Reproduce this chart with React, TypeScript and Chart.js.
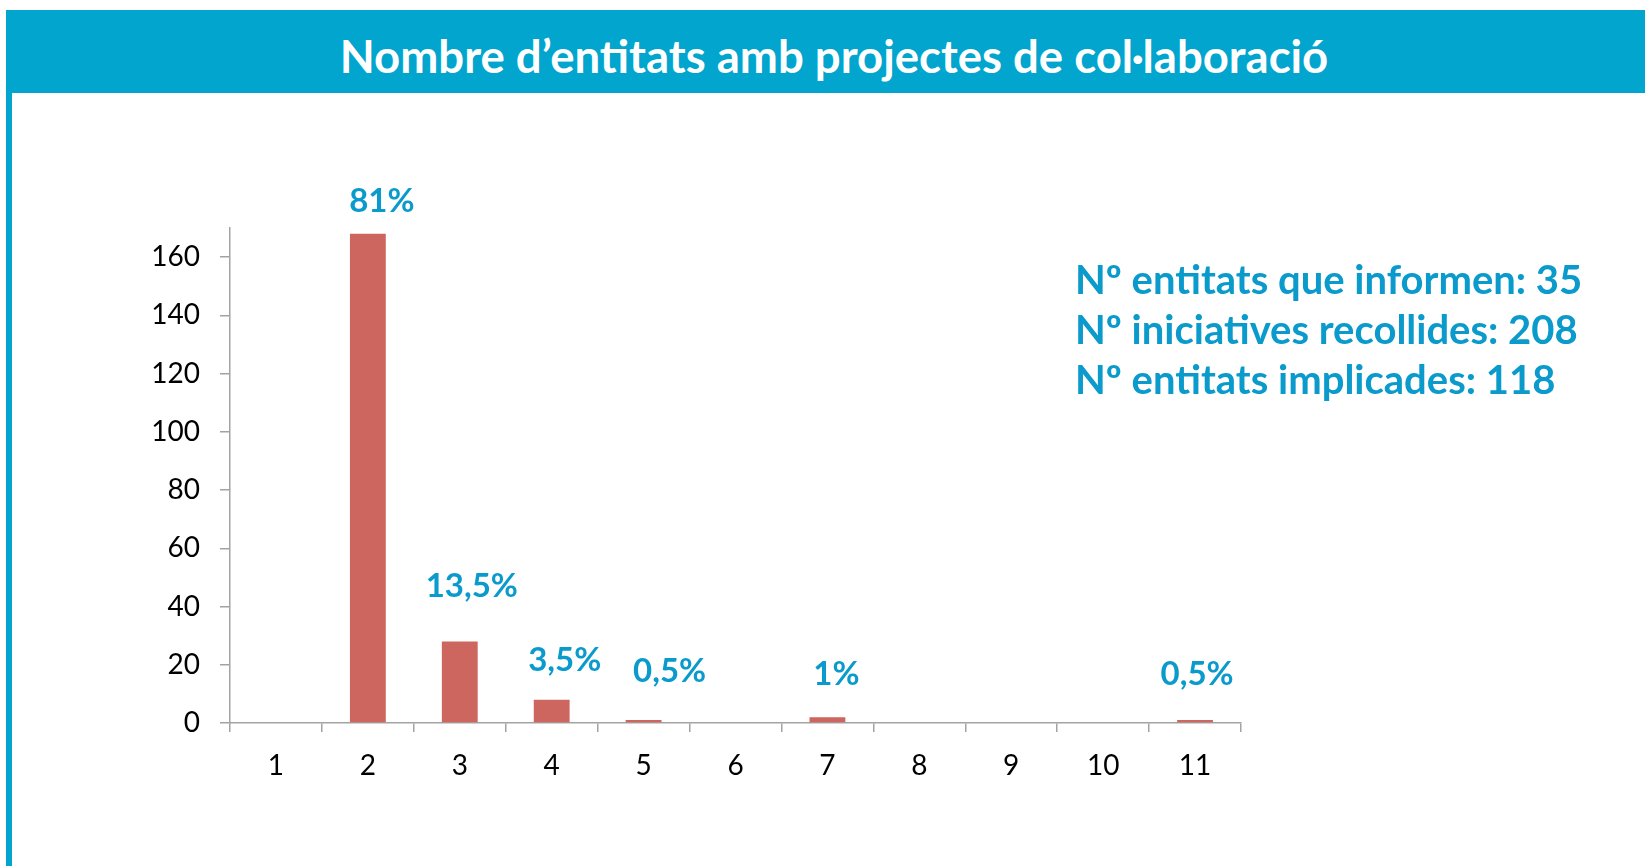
import React, { useEffect, useRef } from "react";
import { Chart, registerables } from "chart.js";

Chart.register(...registerables);

const title = "Nombre d’entitats amb projectes de col·laboració";
const categories = ["1", "2", "3", "4", "5", "6", "7", "8", "9", "10", "11"];
const counts = [0, 168, 28, 8, 1, 0, 2, 0, 0, 0, 1];
const percentLabels = ["", "81%", "13,5%", "3,5%", "0,5%", "", "1%", "", "", "", "0,5%"];
const yTicks = [0, 20, 40, 60, 80, 100, 120, 140, 160];
const infoLines = [
  "Nº entitats que informen: 35",
  "Nº iniciatives recollides: 208",
  "Nº entitats implicades: 118",
];

// label placement (pixel offsets from bar top centre), styling only
const labelOffsets: [number, number][] = [
  [0, 0], [14, 32], [12, 55], [13, 39], [26, 49], [0, 0], [9, 43], [0, 0], [0, 0], [0, 0], [2, 46],
];

const HEADER_BLUE = "#01A5CE";
const LABEL_BLUE = "#0A9ACB";
const BAR_RED = "#CD665F";
const AXIS = "#A3A3A3";
const FONT = "Lato, 'Open Sans', sans-serif";

export default function App() {
  const canvasRef = useRef<HTMLCanvasElement | null>(null);

  useEffect(() => {
    document.body.style.margin = "0";
    const canvas = canvasRef.current;
    if (!canvas) return;

    const pctPlugin = {
      id: "pctLabels",
      afterDatasetsDraw(chart: any) {
        const meta = chart.getDatasetMeta(0);
        const ctx = chart.ctx;
        ctx.save();
        ctx.font = `bold 33px ${FONT}`;
        ctx.fillStyle = LABEL_BLUE;
        ctx.textAlign = "center";
        ctx.textBaseline = "middle";
        percentLabels.forEach((t, i) => {
          if (!t) return;
          const el = meta.data[i];
          const [dx, dy] = labelOffsets[i];
          ctx.fillText(t, el.x + dx, el.y - dy);
        });
        ctx.restore();
      },
    };

    const chart = new Chart(canvas, {
      type: "bar",
      data: {
        labels: categories,
        datasets: [
          {
            data: counts,
            backgroundColor: BAR_RED,
            barPercentage: 0.39,
            categoryPercentage: 1,
          },
        ],
      },
      options: {
        animation: false,
        responsive: false,
        devicePixelRatio: 1,
        layout: { padding: { left: 130, top: 228, right: 404, bottom: 83 } },
        plugins: { legend: { display: false }, tooltip: { enabled: false } },
        scales: {
          x: {
            grid: {
              offset: true,
              drawOnChartArea: false,
              tickLength: 9,
              color: AXIS,
              lineWidth: 1.5,
            },
            border: { color: AXIS, width: 1.5 },
            ticks: { font: { family: FONT, size: 28 }, color: "#000", padding: 17 },
            afterFit: (s: any) => {
              s.height = 60;
            },
          },
          y: {
            min: 0,
            max: 170,
            afterBuildTicks: (s: any) => {
              s.ticks = yTicks.map((v) => ({ value: v }));
            },
            grid: {
              drawOnChartArea: false,
              tickLength: 10,
              color: AXIS,
              lineWidth: 1.5,
            },
            border: { color: AXIS, width: 1.5 },
            ticks: { font: { family: FONT, size: 28 }, color: "#000", padding: 20 },
            afterFit: (s: any) => {
              s.width = 100;
            },
          },
        },
      },
      plugins: [pctPlugin],
    } as any);

    return () => chart.destroy();
  }, []);

  return (
    <div style={{ position: "relative", width: 1645, height: 866, background: "#fff", overflow: "hidden" }}>
      <div
        style={{
          position: "absolute",
          left: 6,
          top: 10,
          width: 1639,
          height: 83,
          background: HEADER_BLUE,
          borderTopLeftRadius: 3,
        }}
      />
      <div style={{ position: "absolute", left: 6, top: 10, width: 6, height: 856, background: HEADER_BLUE }} />
      <div
        style={{
          position: "absolute",
          left: 834,
          top: 56,
          transform: "translate(-50%, -50%)",
          color: "#fff",
          fontFamily: FONT,
          fontWeight: 700,
          fontSize: 45.5,
          whiteSpace: "nowrap",
          lineHeight: 1,
        }}
      >
        {title}
      </div>
      <canvas
        ref={canvasRef}
        width={1645}
        height={866}
        style={{ position: "absolute", left: 0, top: 0, width: 1645, height: 866 }}
      />
      <div
        style={{
          position: "absolute",
          left: 1075,
          top: 254,
          color: LABEL_BLUE,
          fontFamily: FONT,
          fontWeight: 700,
          fontSize: 40,
          lineHeight: "50px",
          whiteSpace: "nowrap",
        }}
      >
        {infoLines.map((l) => (
          <div key={l}>{l}</div>
        ))}
      </div>
    </div>
  );
}
